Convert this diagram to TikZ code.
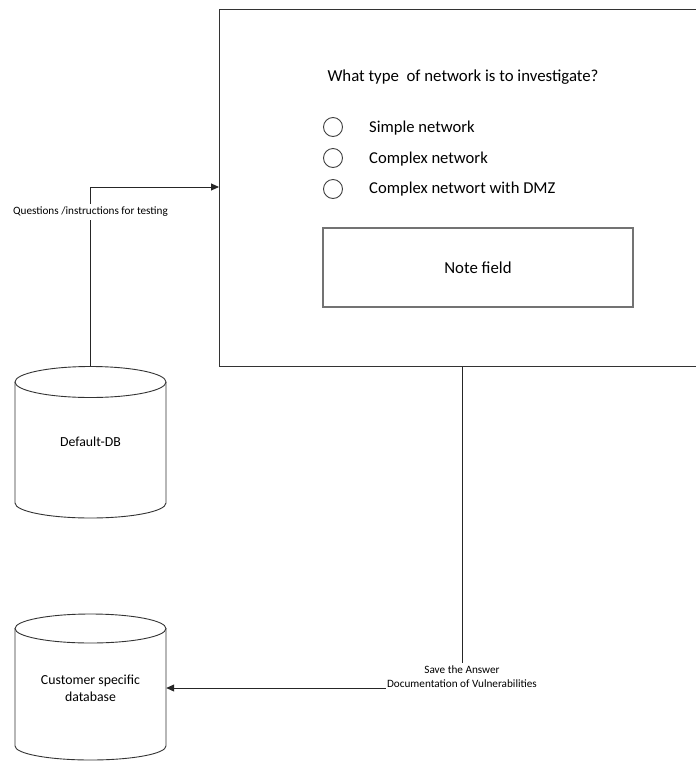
\documentclass[tikz,border=0pt]{standalone}
\usepackage{fontspec}
\setmainfont{Carlito}
\usetikzlibrary{arrows.meta}
\begin{document}
\begin{tikzpicture}[x=1pt,y=-1pt,
  outline/.style={draw=black!80, line width=0.9pt},
  flow/.style={draw=black!85, line width=0.9pt},
  tip/.style={-{Triangle[length=8pt,width=7pt]}},
  qtext/.style={font=\fontsize{16.8}{19}\selectfont, inner sep=0pt},
  optlabel/.style={font=\fontsize{16.6}{19}\selectfont, anchor=west, inner sep=0pt},
  radio/.style={draw=black!75, line width=0.9pt, circle, minimum size=19pt, inner sep=0pt},
  notebox/.style={draw=black!55, line width=1.4pt, minimum width=310pt, minimum height=79pt, font=\fontsize{16.8}{19}\selectfont},
  dbtext/.style={font=\fontsize{13.8}{17}\selectfont, align=center},
  dbbox/.style={minimum width=151pt, inner sep=0pt},
  flowlabel/.style={fill=white, inner xsep=1pt, inner ysep=3pt, align=center, font=\fontsize{11.2}{14}\selectfont}
]
\useasboundingbox (0,0) rectangle (696,761);

% form panel (runs off the right edge)
\node[outline, minimum width=500pt, minimum height=357pt, anchor=north west, inner sep=0pt] (form) at (219,9) {};
\node[qtext] (question) at (463,77) {What type\ \ of network is to investigate?};
\node[radio] (r1) at (333,127) {};
\node[radio] (r2) at (333,158) {};
\node[radio] (r3) at (333,189) {};
\node[optlabel] (o1) at (369,128) {Simple network};
\node[optlabel] (o2) at (369,159) {Complex network};
\node[optlabel] (o3) at (369,189) {Complex networt with DMZ};
\node[notebox] (note) at (478,267.5) {Note field};

% Default-DB cylinder
\node[dbbox, minimum height=151.5pt] (ddb) at (90.5,442) {};
\draw[outline, fill=white] (15,382) -- (15,503) arc[start angle=180, end angle=0, x radius=75.5, y radius=15] -- (166,382);
\draw[outline] (90.5,382) ellipse[x radius=75.5, y radius=15.5];
\node[dbtext] (ddbtxt) at (90.5,442) {Default-DB};

% customer database cylinder
\node[dbbox, minimum height=146pt] (cdb) at (90.5,687.5) {};
\draw[outline, fill=white] (15,628.5) -- (15,746) arc[start angle=180, end angle=0, x radius=75.5, y radius=14] -- (166,628.5);
\draw[outline] (90.5,628.5) ellipse[x radius=75.5, y radius=14.5];
\node[dbtext] (cdbtxt) at (90.5,688) {Customer specific\\database};

% connectors
\coordinate (qbend) at (90.5,187);
\draw[flow, tip] (ddb.north) -- (qbend) -- (form.west |- qbend);
\node[flowlabel] (qlabel) at (90.5,212) {Questions /instructions for testing};

\coordinate (sbend) at (462,688);
\draw[flow, tip] (form.south -| sbend) -- (sbend) -- (cdb.east |- sbend);
\node[flowlabel] (slabel) at (462,676.5) {Save the Answer\\Documentation of Vulnerabilities};
\end{tikzpicture}
\end{document}
